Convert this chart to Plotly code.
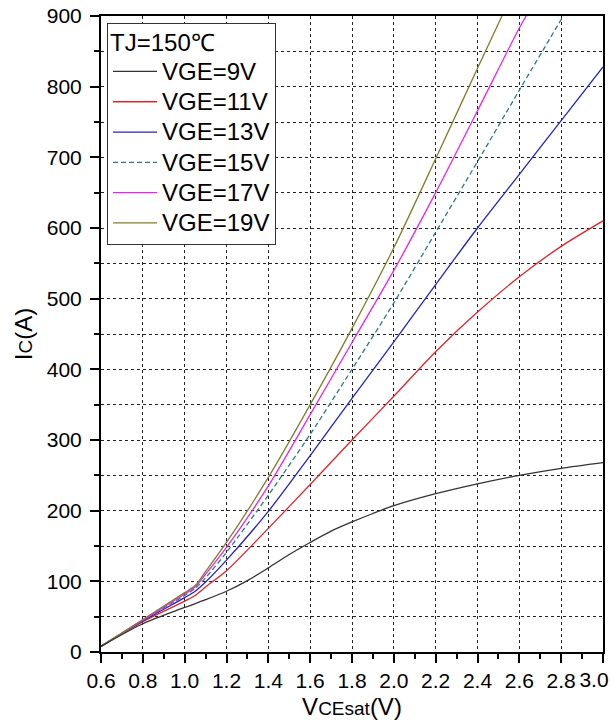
import plotly.graph_objects as go

# ---- data ----
vce_9 = [0.6, 0.8, 1.0, 1.1, 1.2, 1.3, 1.4, 1.5, 1.6, 1.7, 1.8, 1.9, 2.0, 2.2, 2.4, 2.6, 2.8, 3.0]
ic_9 = [8, 40, 63, 74, 86, 101, 119, 138, 155, 171, 184, 196, 207, 224, 238, 250, 260, 268]

vce_11 = [0.6, 0.8, 1.0, 1.05, 1.1, 1.2, 1.4, 1.6, 1.8, 2.0, 2.2, 2.4, 2.6, 2.8, 3.0]
ic_11 = [8, 43, 72, 80, 92, 115, 175, 237, 300, 362, 425, 481, 531, 574, 610]

vce_13 = [0.6, 0.8, 1.0, 1.05, 1.1, 1.2, 1.4, 1.6, 1.8, 2.0, 2.2, 2.4, 2.6, 2.8, 3.0]
ic_13 = [8, 44, 77, 86, 99, 130, 199, 278, 359, 439, 520, 600, 676, 752, 828]

vce_15 = [0.6, 0.8, 1.0, 1.05, 1.1, 1.2, 1.4, 1.6, 1.8, 2.0, 2.2, 2.4, 2.6, 2.81]
ic_15 = [8, 45, 80, 90, 105, 141, 222, 308, 400, 494, 594, 694, 795, 900]

vce_17 = [0.6, 0.8, 1.0, 1.05, 1.1, 1.2, 1.4, 1.6, 1.8, 2.0, 2.2, 2.4, 2.6, 2.633]
ic_17 = [8, 45, 82, 92, 110, 148, 235, 336, 438, 540, 650, 766, 883, 900]

vce_19 = [0.6, 0.8, 1.0, 1.05, 1.1, 1.2, 1.4, 1.6, 1.8, 2.0, 2.2, 2.4, 2.517]
ic_19 = [8, 46, 84, 94, 114, 155, 247, 350, 458, 572, 698, 826, 900]

series_names = ["VGE=9V", "VGE=11V", "VGE=13V", "VGE=15V", "VGE=17V", "VGE=19V"]
series_x = [vce_9, vce_11, vce_13, vce_15, vce_17, vce_19]
series_y = [ic_9, ic_11, ic_13, ic_15, ic_17, ic_19]
series_colors = ["#333333", "#e3242b", "#2323cc", "#2f7b7b", "#ee22ee", "#7f7f2a"]
series_dash = ["solid", "solid", "solid", "5px,3px", "solid", "solid"]
# the first series is drawn on the overlay x axis (same range) so that axis is rendered
series_xaxis = ["x2", "x", "x", "x", "x", "x"]

x_tickvals = [0.6, 0.8, 1.0, 1.2, 1.4, 1.6, 1.8, 2.0, 2.2, 2.4, 2.6, 2.8, 3.0]
x_ticktext = ["0.6", "0.8", "1.0", "1.2", "1.4", "1.6", "1.8", "2.0", "2.2", "2.4", "2.6", "2.8", ""]
x_last_val = [3.0]
x_last_text = ["3.0"]
y_tickvals = [0, 100, 200, 300, 400, 500, 600, 700, 800, 900]

legend_title = "TJ=150℃"
x_title = "V<span style='font-size:19px'>CEsat</span>(V)"
y_title = "I<span style='font-size:19px'>C</span>(A)"

FONT = "Liberation Sans, Arial, sans-serif"
LEG_TEXT = 24
X_RANGE = [0.6, 3.0]

fig = go.Figure()
for name, xs, ys, col, dash, xa in zip(series_names, series_x, series_y, series_colors,
                                       series_dash, series_xaxis):
    fig.add_trace(go.Scatter(
        x=xs, y=ys, xaxis=xa, yaxis="y",
        name=f"<span style='font-size:{LEG_TEXT}px'>{name}</span>", mode="lines",
        line=dict(color=col, width=1.3, dash=dash, shape="spline", smoothing=0.8),
    ))

axis_common = dict(
    showline=True, linecolor="black", linewidth=2, mirror=True,
    ticks="outside", ticklen=9, tickwidth=2, tickcolor="black",
    showgrid=True, gridcolor="#222222", gridwidth=1, griddash="dot",
    zeroline=False, automargin=False,
    tickfont=dict(family=FONT, size=21, color="black"),
)

fig.update_layout(
    xaxis=dict(
        **axis_common,
        range=X_RANGE, tickmode="array", tickvals=x_tickvals, ticktext=x_ticktext,
        minor=dict(ticks="outside", ticklen=5, tickwidth=2, tickcolor="black", dtick=0.1, tick0=0.6,
                   showgrid=False),
        title=dict(text=x_title, font=dict(family=FONT, size=24, color="black"), standoff=14),
    ),
    # overlay axis carrying only the last (edge) tick label, nudged inside the page
    xaxis2=dict(
        overlaying="x", anchor="y", side="bottom", range=X_RANGE,
        tickmode="array", tickvals=x_last_val, ticktext=x_last_text,
        ticks="outside", ticklen=9, tickcolor="rgba(0,0,0,0)",
        showline=False, showgrid=False, zeroline=False, automargin=False,
        ticklabelshift=-9, ticklabeloverflow="allow",
        tickfont=dict(family=FONT, size=21, color="black"),
    ),
    yaxis=dict(
        **axis_common,
        range=[0, 900], tickmode="array", tickvals=y_tickvals,
        minor=dict(ticks="outside", ticklen=5, tickwidth=2, tickcolor="black", dtick=50, tick0=0,
                   showgrid=True, gridcolor="#222222", gridwidth=1, griddash="dot"),
        ticklabelstandoff=4,
        title=dict(text=y_title, font=dict(family=FONT, size=24, color="black"), standoff=7),
    ),
)

fig.update_layout(
    width=614, height=720,
    margin=dict(l=101, r=11, t=16, b=68),
    paper_bgcolor="white", plot_bgcolor="white",
    font=dict(family=FONT, color="black"),
    legend=dict(
        x=0.012, y=0.989, xanchor="left", yanchor="top",
        bgcolor="white", bordercolor="#333333", borderwidth=1,
        font=dict(family=FONT, size=21, color="black"),
        title=dict(text=f"<span style='font-size:{LEG_TEXT}px'>{legend_title}</span>",
                   font=dict(family=FONT, size=21, color="black")),
        tracegroupgap=0, itemwidth=44,
    ),
    showlegend=True,
)

fig.write_html("out.html")
